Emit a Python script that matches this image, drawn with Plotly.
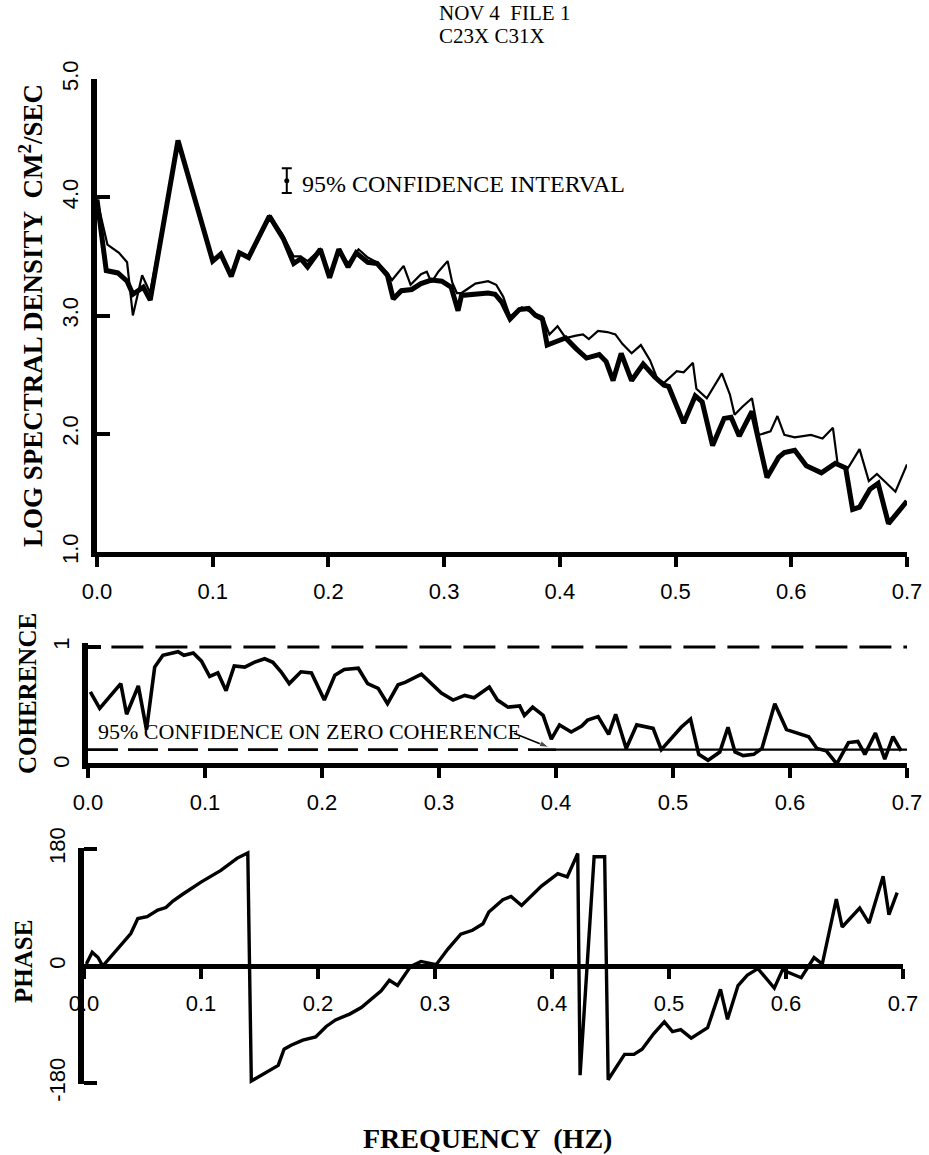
import plotly.graph_objects as go

W, H = 929, 1155

# ---------------- data ----------------
# Log spectral density (cm^2/sec), two records
freq_c23x = [0.000, 0.009, 0.019, 0.026, 0.031, 0.039, 0.046, 0.070, 0.100, 0.107,
             0.116, 0.123, 0.131, 0.149, 0.160, 0.167, 0.170, 0.176, 0.182, 0.193,
             0.201, 0.209, 0.217, 0.226, 0.234, 0.242, 0.251, 0.255, 0.265, 0.271,
             0.280, 0.285, 0.289, 0.295, 0.303, 0.307, 0.311, 0.315, 0.327, 0.338,
             0.345, 0.351, 0.357, 0.367, 0.375, 0.385, 0.391, 0.398, 0.405, 0.414,
             0.420, 0.425, 0.433, 0.441, 0.448, 0.454, 0.462, 0.470, 0.478, 0.484,
             0.490, 0.501, 0.507, 0.515, 0.518, 0.527, 0.540, 0.547, 0.551, 0.558,
             0.566, 0.572, 0.582, 0.588, 0.594, 0.603, 0.617, 0.627, 0.636, 0.640,
             0.649, 0.659, 0.667, 0.674, 0.690, 0.700]
logsd_c23x = [3.98, 3.60, 3.53, 3.45, 3.00, 3.34, 3.19, 4.48, 3.46, 3.52,
              3.33, 3.53, 3.49, 3.84, 3.69, 3.55, 3.50, 3.50, 3.46, 3.56,
              3.35, 3.56, 3.44, 3.56, 3.49, 3.45, 3.36, 3.30, 3.42, 3.26,
              3.35, 3.37, 3.28, 3.37, 3.46, 3.28, 3.19, 3.19, 3.27, 3.29,
              3.26, 3.16, 2.99, 3.07, 3.03, 2.99, 2.84, 2.91, 2.81, 2.83,
              2.84, 2.80, 2.87, 2.86, 2.84, 2.76, 2.68, 2.75, 2.62, 2.47,
              2.43, 2.53, 2.52, 2.60, 2.38, 2.30, 2.51, 2.33, 2.16, 2.23,
              2.30, 1.99, 2.02, 2.15, 1.99, 1.97, 1.99, 1.96, 2.05, 1.75,
              1.71, 1.87, 1.60, 1.66, 1.51, 1.74]

freq_c31x = [0.000, 0.008, 0.018, 0.026, 0.031, 0.040, 0.046, 0.070, 0.100, 0.107,
             0.116, 0.123, 0.131, 0.149, 0.161, 0.170, 0.176, 0.182, 0.193, 0.201,
             0.209, 0.217, 0.224, 0.234, 0.242, 0.251, 0.256, 0.263, 0.272, 0.280,
             0.289, 0.298, 0.306, 0.312, 0.315, 0.327, 0.338, 0.344, 0.350, 0.357,
             0.365, 0.373, 0.379, 0.385, 0.389, 0.397, 0.405, 0.414, 0.423, 0.434,
             0.440, 0.446, 0.453, 0.462, 0.472, 0.482, 0.490, 0.494, 0.507, 0.517,
             0.523, 0.532, 0.542, 0.548, 0.555, 0.566, 0.579, 0.589, 0.594, 0.603,
             0.613, 0.626, 0.638, 0.647, 0.653, 0.659, 0.668, 0.675, 0.684, 0.700]
logsd_c31x = [3.98, 3.38, 3.36, 3.29, 3.18, 3.24, 3.13, 4.48, 3.46, 3.52,
              3.33, 3.53, 3.49, 3.84, 3.65, 3.44, 3.48, 3.41, 3.56, 3.32,
              3.56, 3.41, 3.53, 3.45, 3.44, 3.34, 3.14, 3.21, 3.22, 3.27,
              3.30, 3.29, 3.24, 3.04, 3.17, 3.18, 3.19, 3.18, 3.11, 2.97,
              3.05, 3.06, 3.00, 2.97, 2.75, 2.78, 2.81, 2.72, 2.64, 2.67,
              2.61, 2.45, 2.68, 2.45, 2.59, 2.48, 2.41, 2.40, 2.09, 2.32,
              2.27, 1.90, 2.13, 2.14, 1.98, 2.19, 1.63, 1.80, 1.84, 1.86,
              1.73, 1.67, 1.75, 1.71, 1.36, 1.38, 1.53, 1.58, 1.24, 1.43]

# 95% confidence interval bar for the spectra
ci_freq = [0.164]
ci_center = [4.14]
ci_half = [0.105]

# Coherence
freq_coh = [0.002, 0.010, 0.028, 0.033, 0.043, 0.050, 0.057, 0.064, 0.077, 0.082,
            0.090, 0.097, 0.104, 0.111, 0.118, 0.125, 0.134, 0.142, 0.151, 0.158,
            0.165, 0.172, 0.182, 0.191, 0.202, 0.211, 0.219, 0.231, 0.239, 0.248,
            0.256, 0.265, 0.271, 0.285, 0.302, 0.312, 0.322, 0.330, 0.343, 0.350,
            0.359, 0.369, 0.373, 0.380, 0.389, 0.396, 0.403, 0.413, 0.422, 0.427,
            0.436, 0.445, 0.451, 0.460, 0.469, 0.479, 0.483, 0.490, 0.497, 0.507,
            0.515, 0.522, 0.530, 0.540, 0.547, 0.553, 0.560, 0.569, 0.576, 0.587,
            0.597, 0.604, 0.616, 0.623, 0.631, 0.640, 0.650, 0.658, 0.664, 0.673,
            0.681, 0.688, 0.695]
coherence = [0.62, 0.48, 0.69, 0.43, 0.67, 0.30, 0.83, 0.93, 0.96, 0.93,
             0.95, 0.88, 0.75, 0.78, 0.63, 0.84, 0.83, 0.87, 0.90, 0.87,
             0.79, 0.69, 0.79, 0.78, 0.55, 0.76, 0.81, 0.82, 0.69, 0.65,
             0.52, 0.68, 0.70, 0.77, 0.61, 0.55, 0.59, 0.57, 0.66, 0.55,
             0.49, 0.50, 0.42, 0.49, 0.42, 0.22, 0.34, 0.28, 0.33, 0.38,
             0.41, 0.26, 0.43, 0.14, 0.34, 0.32, 0.31, 0.13, 0.21, 0.32,
             0.39, 0.09, 0.04, 0.11, 0.32, 0.11, 0.08, 0.09, 0.14, 0.52,
             0.30, 0.28, 0.24, 0.14, 0.12, 0.01, 0.19, 0.20, 0.09, 0.27,
             0.05, 0.24, 0.12]

coh_unit_freq = [0.020, 0.700]
coh_unit_level = [1.0, 1.0]
coh_zero_ci_level = 0.13
coh_zero_ci_dash_freq = [0.000, 0.400]
coh_zero_ci_solid_freq = [0.400, 0.700]
# pointer from the label to the zero-coherence confidence line
pointer_freq = [0.364, 0.394]
pointer_coh = [0.27, 0.15]

# Phase (degrees)
freq_phase = [0.002, 0.007, 0.012, 0.016, 0.040, 0.046, 0.054, 0.063, 0.070, 0.076,
              0.084, 0.100, 0.117, 0.131, 0.140, 0.143, 0.166, 0.171, 0.177, 0.187,
              0.198, 0.207, 0.215, 0.227, 0.237, 0.245, 0.254, 0.261, 0.268, 0.279,
              0.288, 0.301, 0.311, 0.322, 0.332, 0.341, 0.346, 0.358, 0.365, 0.374,
              0.391, 0.405, 0.413, 0.422, 0.424, 0.436, 0.445, 0.448, 0.462, 0.470,
              0.477, 0.487, 0.496, 0.503, 0.510, 0.519, 0.533, 0.544, 0.550, 0.559,
              0.567, 0.576, 0.590, 0.597, 0.613, 0.624, 0.631, 0.643, 0.648, 0.663,
              0.671, 0.683, 0.688, 0.695]
phase_deg = [3, 21, 13, 0, 50, 73, 76, 86, 90, 100,
             110, 129, 147, 166, 174, -177, -153, -128, -122, -114,
             -109, -93, -83, -74, -64, -51, -38, -22, -30, -1,
             7, 2, 26, 49, 55, 65, 83, 102, 107, 93,
             123, 142, 137, 173, -168, 168, 168, -175, -136, -136,
             -128, -104, -86, -101, -98, -111, -95, -36, -82, -30,
             -14, -4, -34, -6, -18, 13, 3, 103, 60, 89,
             66, 138, 79, 113]

freq_tickvals = [0.0, 0.1, 0.2, 0.3, 0.4, 0.5, 0.6, 0.7]
freq_ticktext = ["0.0", "0.1", "0.2", "0.3", "0.4", "0.5", "0.6", "0.7"]
logsd_tickvals = [1, 2, 3, 4, 5]
logsd_ticktext = ["1.0", "2.0", "3.0", "4.0", "5.0"]
coh_tickvals = [0, 1]
coh_ticktext = ["0", "1"]
phase_tickvals = [-180, 0, 180]
phase_ticktext = ["-180", "0", "180"]

# ---------------- layout helpers ----------------
def fx(p):
    return p / W


def fy(p):
    return 1 - p / H


SANS = "Liberation Sans, Arial, sans-serif"
SERIF = "Liberation Serif, Times New Roman, serif"
INK = "black"

fig = go.Figure()

# spectra
fig.add_trace(go.Scatter(x=freq_c23x, y=logsd_c23x, mode="lines", name="C23X",
                         line=dict(color=INK, width=2.2), xaxis="x", yaxis="y"))
fig.add_trace(go.Scatter(x=freq_c31x, y=logsd_c31x, mode="lines", name="C31X",
                         line=dict(color=INK, width=5), xaxis="x", yaxis="y"))
fig.add_trace(go.Scatter(x=ci_freq, y=ci_center, mode="markers", name="95% CI",
                         marker=dict(color=INK, size=5),
                         error_y=dict(type="data", array=ci_half, color=INK,
                                      thickness=2, width=5),
                         xaxis="x", yaxis="y"))

# coherence
fig.add_trace(go.Scatter(x=coh_unit_freq, y=coh_unit_level, mode="lines",
                         line=dict(color=INK, width=3, dash="32px,12px"),
                         xaxis="x2", yaxis="y2"))
fig.add_trace(go.Scatter(x=coh_zero_ci_dash_freq,
                         y=[coh_zero_ci_level] * len(coh_zero_ci_dash_freq),
                         mode="lines", line=dict(color=INK, width=2.6, dash="30px,10px"),
                         xaxis="x2", yaxis="y2"))
fig.add_trace(go.Scatter(x=coh_zero_ci_solid_freq,
                         y=[coh_zero_ci_level] * len(coh_zero_ci_solid_freq),
                         mode="lines", line=dict(color=INK, width=2.2),
                         xaxis="x2", yaxis="y2"))
fig.add_trace(go.Scatter(x=pointer_freq, y=pointer_coh, mode="lines+markers",
                         line=dict(color=INK, width=1.6),
                         marker=dict(symbol=["circle", "arrow"], size=[1, 10],
                                     angleref="previous", color=INK),
                         xaxis="x2", yaxis="y2"))
fig.add_trace(go.Scatter(x=freq_coh, y=coherence, mode="lines", name="Coherence",
                         line=dict(color=INK, width=3.6), xaxis="x2", yaxis="y2"))

# phase
fig.add_trace(go.Scatter(x=freq_phase, y=phase_deg, mode="lines", name="Phase",
                         line=dict(color=INK, width=3.4), xaxis="x3", yaxis="y3"))


def xax(domain, **kw):
    d = dict(domain=domain, range=[0, 0.7], showline=True, linewidth=5,
             linecolor=INK, ticks="outside", ticklen=10, tickwidth=4,
             tickcolor=INK, tickvals=freq_tickvals, ticktext=freq_ticktext,
             tickfont=dict(family=SANS, size=22, color=INK), showgrid=False,
             zeroline=False, ticklabelstandoff=6, automargin=False)
    d.update(kw)
    return d


def yax(domain, rng, vals, text, **kw):
    d = dict(domain=domain, range=rng, showline=True, linewidth=5.5,
             linecolor=INK, ticks="inside", ticklen=13, tickwidth=4,
             tickcolor=INK, tickvals=vals, ticktext=text, tickangle=-90,
             tickfont=dict(family=SANS, size=22, color=INK), showgrid=False,
             zeroline=False, ticklabelstandoff=4, automargin=False)
    d.update(kw)
    return d


# pixel anchors of each panel
top_y1, top_y5 = 552, 79
mid_zero, mid_unit = 765, 118
bot_zero, bot_half = 966, 117

mid_lo, mid_hi = -0.03, 1.03
bot_lo, bot_hi = -182, 182

fig.update_layout(
    width=W, height=H,
    margin=dict(l=0, r=0, t=0, b=0, pad=0, autoexpand=False),
    paper_bgcolor="white", plot_bgcolor="white",
    showlegend=False,
    xaxis=xax([fx(97), fx(907)], anchor="y"),
    yaxis=yax([fy(top_y1), fy(top_y5)], [1, 5], logsd_tickvals, logsd_ticktext,
              anchor="x"),
    xaxis2=xax([fx(88), fx(907)], anchor="free", position=fy(mid_zero)),
    yaxis2=yax([fy(mid_zero - mid_lo * mid_unit), fy(mid_zero - mid_hi * mid_unit)],
               [mid_lo, mid_hi], coh_tickvals, coh_ticktext, anchor="x2"),
    xaxis3=xax([fx(84), fx(903)], anchor="free", position=fy(bot_zero)),
    yaxis3=yax([fy(bot_zero - bot_lo / 180 * bot_half),
                fy(bot_zero - bot_hi / 180 * bot_half)],
               [bot_lo, bot_hi], phase_tickvals, phase_ticktext, anchor="x3"),
)

ann = []
ann.append(dict(text="NOV 4  FILE 1", x=fx(437), y=fy(13), xref="paper", yref="paper",
                xanchor="left", yanchor="middle", showarrow=False,
                font=dict(family=SERIF, size=21, color=INK)))
ann.append(dict(text="C23X C31X", x=fx(437), y=fy(36), xref="paper", yref="paper",
                xanchor="left", yanchor="middle", showarrow=False,
                font=dict(family=SERIF, size=21, color=INK)))
ann.append(dict(text="95% CONFIDENCE INTERVAL", x=fx(300), y=fy(184), xref="paper",
                yref="paper", xanchor="left", yanchor="middle", showarrow=False,
                font=dict(family=SERIF, size=24, color=INK)))
ann.append(dict(text="95% CONFIDENCE ON ZERO COHERENCE", x=fx(96), y=fy(731),
                xref="paper", yref="paper", xanchor="left", yanchor="middle",
                showarrow=False, font=dict(family=SERIF, size=22, color=INK)))
ann.append(dict(text="<b>LOG SPECTRAL DENSITY  CM<sup>2</sup>/SEC</b>", x=fx(31),
                y=fy(316), xref="paper", yref="paper", xanchor="center",
                yanchor="middle", textangle=-90, showarrow=False,
                font=dict(family=SERIF, size=27, color=INK)))
ann.append(dict(text="<b>COHERENCE</b>", x=fx(27), y=fy(694), xref="paper",
                yref="paper", xanchor="center", yanchor="middle", textangle=-90,
                showarrow=False, font=dict(family=SERIF, size=25, color=INK)))
ann.append(dict(text="<b>PHASE</b>", x=fx(23), y=fy(962), xref="paper",
                yref="paper", xanchor="center", yanchor="middle", textangle=-90,
                showarrow=False, font=dict(family=SERIF, size=25, color=INK)))
ann.append(dict(text="<b>FREQUENCY  (HZ)</b>", x=fx(487), y=fy(1138), xref="paper",
                yref="paper", xanchor="center", yanchor="middle", showarrow=False,
                font=dict(family=SERIF, size=28, color=INK)))
fig.update_layout(annotations=ann)

fig.write_html("out.html")
